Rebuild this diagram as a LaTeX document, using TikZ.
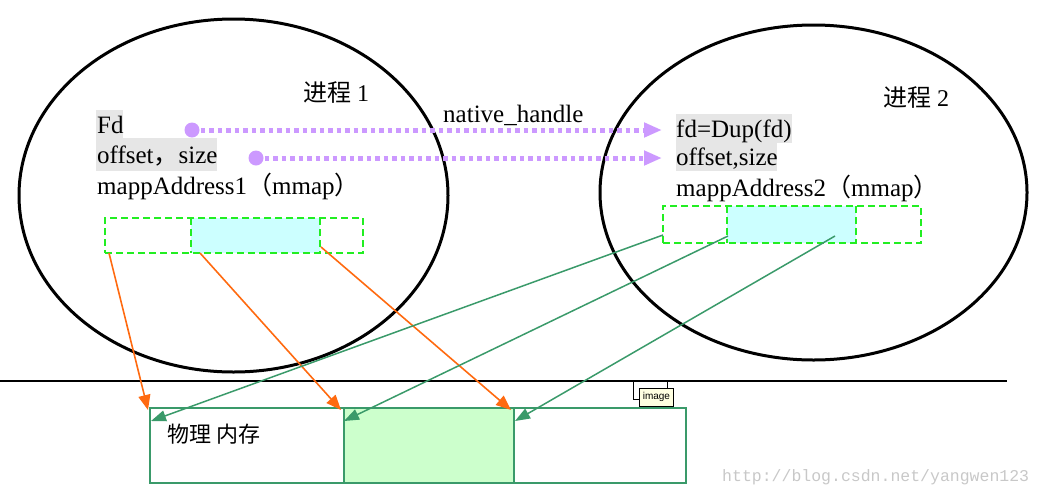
\documentclass[tikz,border=0pt]{standalone}
\usepackage{fontspec}
\setmainfont{Liberation Serif}
\newfontfamily\cjk{Noto Sans CJK SC}
\newfontfamily\wmfont{Liberation Mono}
\newfontfamily\tipfont{Liberation Sans}
\usetikzlibrary{shapes.geometric,arrows.meta}
\definecolor{dgreen}{HTML}{22EE22}
\definecolor{cyanfill}{HTML}{CCFFFF}
\definecolor{memgreen}{HTML}{3A9A6A}
\definecolor{memfill}{HTML}{CCFFCC}
\definecolor{purp}{HTML}{CC99FF}
\definecolor{orng}{HTML}{FF6A10}
\definecolor{arrgreen}{HTML}{3A9A6A}
\definecolor{hlgray}{HTML}{E6E6E6}
\definecolor{wmgray}{HTML}{C8C8C8}
\definecolor{tipyellow}{HTML}{FFFFE1}
\begin{document}
\begin{tikzpicture}[x=1pt,y=-1pt,
  proc/.style={ellipse, draw, line width=3pt, inner sep=0pt},
  txt/.style={anchor=base west, inner sep=0pt, font=\fontsize{25}{28}\selectfont},
  title/.style={anchor=base west, inner sep=0pt, font=\fontsize{24}{28}\selectfont},
  dbox/.style={rectangle, draw=dgreen, line width=1.5pt, dash pattern=on 7pt off 4pt, inner sep=0pt},
  cfill/.style={rectangle, fill=cyanfill, inner sep=0pt},
  dedge/.style={draw=dgreen, line width=1.5pt, dash pattern=on 7pt off 4pt},
  cell/.style={rectangle, draw=memgreen, line width=2pt, inner sep=0pt, anchor=north west, minimum height=75pt},
  parrow/.style={purp, line width=5pt, dash pattern=on 4.5pt off 4pt, -{Triangle[length=18pt,width=14pt]}},
  oarrow/.style={orng, line width=1.6pt, -{Triangle[length=15pt,width=12pt]}},
  garrow/.style={arrgreen, line width=1.5pt, -{Triangle[length=15pt,width=11pt]}},
  hl/.style={fill=hlgray}
]
\useasboundingbox (0,0) rectangle (1043,499);

% processes
\node[proc, minimum width=429pt, minimum height=353pt] (p1) at (233.5,195.5) {};
\node[proc, minimum width=427pt, minimum height=335pt] (p2) at (813.5,192.5) {};

% highlights
\fill[hl] (96,110) rectangle (123,138);
\fill[hl] (96,138) rectangle (217,171);
\fill[hl] (676,114) rectangle (792,143);
\fill[hl] (676,143) rectangle (777,171);

% titles
\node[title] (t1) at (303,101) {{\cjk 进程} 1};
\node[title] (t2) at (883,106) {{\cjk 进程} 2};

% left texts
\node[txt] (fd1) at (97,133) {Fd};
\node[txt] (os1) at (97,163) {offset{\cjk ，}size};
\node[txt] (ma1) at (97,194) {mappAddress1{\cjk （}mmap{\cjk ）}};

% right texts
\node[txt] (fd2) at (676,137) {fd=Dup(fd)};
\node[txt] (os2) at (676,165) {offset,size};
\node[txt] (ma2) at (676,196) {mappAddress2{\cjk （}mmap{\cjk ）}};

\node[txt] (nh) at (443,122) {native\_handle};

% dashed boxes process 1
\node[cfill, minimum width=129pt, minimum height=35pt] (in1) at (255.5,235.5) {};
\node[dbox, minimum width=258pt, minimum height=35pt] (r1) at (234,235.5) {};
\draw[dedge] (in1.north west) -- (in1.south west);
\draw[dedge] (in1.north east) -- (in1.south east);

% dashed boxes process 2
\node[cfill, minimum width=129pt, minimum height=37pt] (in2) at (791.5,224.5) {};
\node[dbox, minimum width=258pt, minimum height=37pt] (r2) at (792,224.5) {};
\draw[dedge] (in2.north west) -- (in2.south west);
\draw[dedge] (in2.north east) -- (in2.south east);

% purple arrows
\coordinate (d1) at (192,130);
\coordinate (e1) at (662,130);
\coordinate (d2) at (256,158);
\coordinate (e2) at (662,158);
\fill[purp] (d1) circle (7.5pt);
\fill[purp] (d2) circle (7.5pt);
\draw[parrow] (d1) -- (e1);
\draw[parrow] (d2) -- (e2);

% divider line
\coordinate (hl0) at (0,381);
\coordinate (hl1) at (1007,381);
\draw[line width=1.5pt] (hl0) -- (hl1);

% memory
\node[cell, minimum width=194pt] (m1) at (149,407) {};
\node[cell, minimum width=170pt, fill=memfill] (m2) at (343,407) {};
\node[cell, minimum width=172pt] (m3) at (513,407) {};
\node[anchor=west, inner sep=0pt, font=\cjk\fontsize{22}{24}\selectfont] (mlabel) at (167,434) {物理 内存};

% orange arrows
\coordinate (o1s) at (109,253);
\coordinate (o1e) at (148,410);
\coordinate (o2s) at (200,253);
\coordinate (o2e) at (341,410);
\coordinate (o3s) at (321,247);
\coordinate (o3e) at (511,410);
\draw[oarrow] (o1s) -- (o1e);
\draw[oarrow] (o2s) -- (o2e);
\draw[oarrow] (o3s) -- (o3e);

% green arrows
\coordinate (g1s) at (663,235);
\coordinate (g1e) at (151,421);
\coordinate (g2s) at (728,236);
\coordinate (g2e) at (344,421);
\coordinate (g3s) at (835,236);
\coordinate (g3e) at (515,421);
\draw[garrow] (g1s) -- (g1e);
\draw[garrow] (g2s) -- (g2e);
\draw[garrow] (g3s) -- (g3e);

% tooltip
\node[draw, line width=0.8pt, inner sep=0pt, minimum width=34pt, minimum height=18pt, anchor=north west] (tipa) at (633,381) {};
\node[draw, line width=0.8pt, fill=tipyellow, inner sep=0pt, minimum width=34pt, minimum height=18pt, anchor=north west, font=\tipfont\fontsize{10}{11}\selectfont] (tipb) at (639,388) {image};

% watermark
\node[anchor=west, inner sep=0pt, font=\wmfont\fontsize{16.5}{18}\selectfont, text=wmgray] (wm) at (722,477) {http://blog.csdn.net/yangwen123};
\end{tikzpicture}
\end{document}
